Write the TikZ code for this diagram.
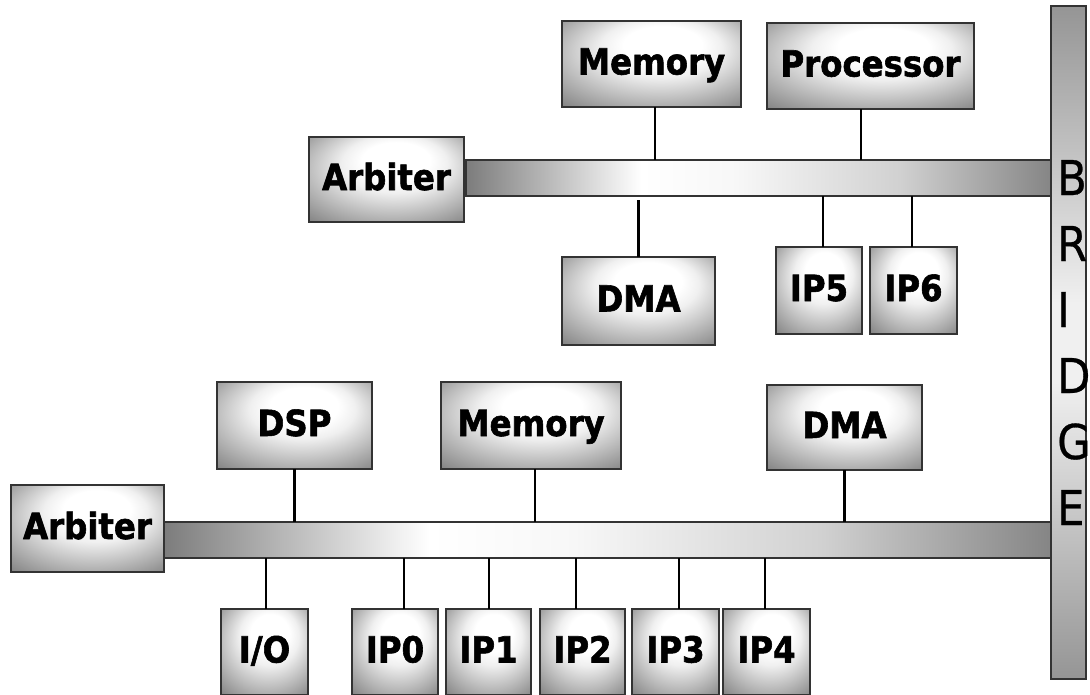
\documentclass[tikz,border=0pt]{standalone}
\usepackage{fontspec}
\newfontfamily\lblfont{DejaVu Sans Condensed Bold}[FakeBold=1.6]
\newfontfamily\brfont{DejaVu Sans Condensed}[FakeBold=0.6]
\definecolor{bordergray}{HTML}{333333}
\definecolor{busdark}{HTML}{7C7C7C}
\definecolor{busright}{HTML}{858585}
\definecolor{bridgedark}{HTML}{959595}
\pgfdeclareradialshading{boxshade}{\pgfpoint{4bp}{14bp}}{color(0bp)=(white); color(11bp)=(white); color(17bp)=(black!6); color(28bp)=(black!28); color(38bp)=(black!48); color(50bp)=(black!55)}
\pgfdeclarehorizontalshading{busshade}{100bp}{color(0bp)=(busdark); color(25bp)=(busdark); color(40bp)=(white); color(48bp)=(white!97!black); color(62bp)=(black!18); color(75bp)=(busright); color(100bp)=(busright)}
\pgfdeclareverticalshading{bridgeshade}{100bp}{color(0bp)=(bridgedark); color(25bp)=(bridgedark); color(47bp)=(white!94!black); color(53bp)=(white!94!black); color(75bp)=(bridgedark); color(100bp)=(bridgedark)}
\tikzset{
  blk/.style={draw=bordergray, line width=1.3pt, shading=boxshade, inner sep=0pt, outer sep=0pt,
    anchor=north west, font=\lblfont\fontsize{36}{40}\selectfont, text height=26pt, text depth=5pt},
  busbar/.style={draw=bordergray, line width=1.1pt, shading=busshade, inner sep=0pt, outer sep=0pt, anchor=north west},
  bridgebar/.style={draw=bordergray, line width=1.1pt, shading=bridgeshade, inner sep=0pt, outer sep=0pt, anchor=north west},
  bletter/.style={inner sep=0pt, anchor=base west, font=\brfont\fontsize{48}{50}\selectfont},
  conn/.style={draw=black, line width=2.4pt}
}
\begin{document}
\begin{tikzpicture}[x=1pt,y=-1pt]
\useasboundingbox (0,0) rectangle (1090,694);
\clip (0,0) rectangle (1090,694);
\fill[white] (0,0) rectangle (1090,694);

% buses and bridge
\node[busbar, minimum width=585pt, minimum height=36pt] (bus1) at (466,160) {};
\node[busbar, minimum width=888pt, minimum height=36pt] (bus2) at (163,522) {};
\node[bridgebar, minimum width=35pt, minimum height=673pt] (bridge) at (1051,6) {};

\node[bletter] (lB) at (1057,195) {B};
\node[bletter] (lR) at (1057,261) {R};
\node[bletter] (lI) at (1057,327) {I};
\node[bletter] (lD) at (1057,393) {D};
\node[bletter] (lG) at (1057,459) {G};
\node[bletter] (lE) at (1057,525) {E};

% upper system
\node[blk, minimum width=179pt, minimum height=86pt] (mem1) at (562,21) {Memory};
\node[blk, minimum width=207pt, minimum height=86pt] (proc) at (767,23) {Processor};
\node[blk, minimum width=155pt, minimum height=85pt] (arb1) at (309,137) {Arbiter};
\node[blk, minimum width=153pt, minimum height=88pt] (dma1) at (562,257) {DMA};
\node[blk, minimum width=86pt, minimum height=87pt] (ip5) at (776,247) {IP5};
\node[blk, minimum width=87pt, minimum height=87pt] (ip6) at (870,247) {IP6};

% lower system
\node[blk, minimum width=155pt, minimum height=87pt] (dsp) at (217,382) {DSP};
\node[blk, minimum width=180pt, minimum height=87pt] (mem2) at (441,382) {Memory};
\node[blk, minimum width=155pt, minimum height=85pt] (dma2) at (767,385) {DMA};
\node[blk, minimum width=153pt, minimum height=87pt] (arb2) at (11,485) {Arbiter};
\node[blk, minimum width=87pt, minimum height=86pt] (io) at (221,609) {I/O};
\node[blk, minimum width=86pt, minimum height=86pt] (ip0) at (352,609) {IP0};
\node[blk, minimum width=85pt, minimum height=86pt] (ip1) at (446,609) {IP1};
\node[blk, minimum width=85pt, minimum height=86pt] (ip2) at (540,609) {IP2};
\node[blk, minimum width=87pt, minimum height=86pt] (ip3) at (632,609) {IP3};
\node[blk, minimum width=87pt, minimum height=86pt] (ip4) at (723,609) {IP4};

% connectors upper bus
\draw[conn] ([xshift=3.5pt]mem1.south) -- ([xshift=3.5pt]mem1.south |- bus1.north);
\draw[conn] ([xshift=-9.5pt]proc.south) -- ([xshift=-9.5pt]proc.south |- bus1.north);
\draw[conn, shorten >=4pt] (dma1.north) -- (dma1.north |- bus1.south);
\draw[conn] ([xshift=4pt]ip5.north) -- ([xshift=4pt]ip5.north |- bus1.south);
\draw[conn] ([xshift=-1.5pt]ip6.north) -- ([xshift=-1.5pt]ip6.north |- bus1.south);

% connectors lower bus
\draw[conn] (dsp.south) -- (dsp.south |- bus2.north);
\draw[conn] ([xshift=4pt]mem2.south) -- ([xshift=4pt]mem2.south |- bus2.north);
\draw[conn] (dma2.south) -- (dma2.south |- bus2.north);
\draw[conn] ([xshift=1.5pt]io.north) -- ([xshift=1.5pt]io.north |- bus2.south);
\draw[conn] ([xshift=9pt]ip0.north) -- ([xshift=9pt]ip0.north |- bus2.south);
\draw[conn] ([xshift=0.5pt]ip1.north) -- ([xshift=0.5pt]ip1.north |- bus2.south);
\draw[conn] ([xshift=-6.5pt]ip2.north) -- ([xshift=-6.5pt]ip2.north |- bus2.south);
\draw[conn] ([xshift=3.5pt]ip3.north) -- ([xshift=3.5pt]ip3.north |- bus2.south);
\draw[conn] ([xshift=-1.5pt]ip4.north) -- ([xshift=-1.5pt]ip4.north |- bus2.south);
\end{tikzpicture}
\end{document}
